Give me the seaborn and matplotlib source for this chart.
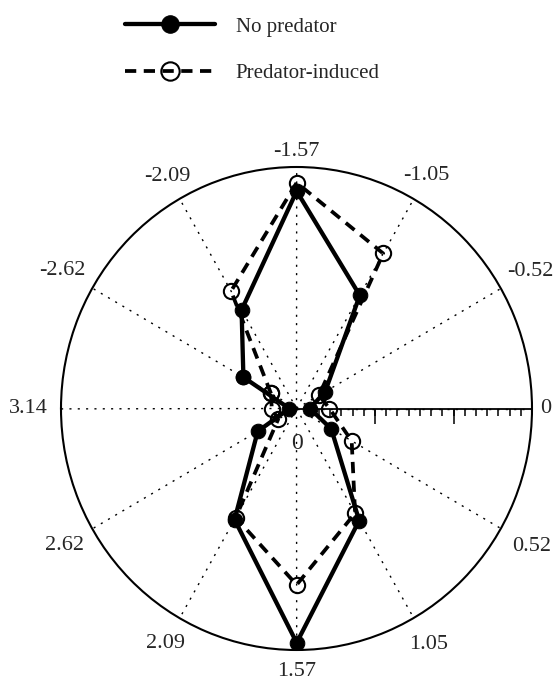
import matplotlib

matplotlib.use("Agg")

import matplotlib.pyplot as plt
import numpy as np
import seaborn as sns

sns.set_style("white")
plt.rcParams["font.family"] = ["Liberation Serif", "DejaVu Serif"]

# angle (rad) of each bin and mean vector length per treatment
angles = [-2.62, -2.09, -1.57, -1.05, -0.52, 0.0, 0.52, 1.05, 1.57, 2.09, 2.62, 3.14]
no_predator = [0.26, 0.47, 0.90, 0.54, 0.14, 0.057, 0.17, 0.535, 0.97, 0.53, 0.19, 0.03]
predator_induced = [0.125, 0.56, 0.935, 0.74, 0.11, 0.14, 0.27, 0.50, 0.73, 0.52, 0.09, 0.105]

tick_angles = [0.0, 0.52, 1.05, 1.57, 2.09, 2.62, 3.14, -2.62, -2.09, -1.57, -1.05, -0.52]
tick_labels = ["0", "0.52", "1.05", "1.57", "2.09", "2.62", "3.14",
               "-2.62", "-2.09", "-1.57", "-1.05", "-0.52"]
label_radius = [1.06, 1.15, 1.125, 1.09, 1.12, 1.135, 1.14, 1.145, 1.105, 1.065, 1.11, 1.145]

fig = plt.figure(figsize=(5.54, 6.82), dpi=100)
ax = fig.add_axes([61 / 554, 32 / 682, 471 / 554, 483 / 682], projection="polar")

# closed loops
th = np.append(angles, angles[0])
r_np = np.append(no_predator, no_predator[0])
r_pi = np.append(predator_induced, predator_induced[0])

sns.lineplot(x=th, y=r_pi, ax=ax, sort=False, estimator=None, color="black",
             linewidth=2.7, linestyle=(0, (3, 2)), marker="o", markersize=11,
             markerfacecolor="none", markeredgecolor="black", markeredgewidth=1.5)
line_pi = ax.lines[-1]
sns.lineplot(x=th, y=r_np, ax=ax, sort=False, estimator=None, color="black",
             linewidth=3.1, marker="o", markersize=10.5,
             markerfacecolor="black", markeredgecolor="black")
line_np = ax.lines[-1]

ax.set_xlim(-np.pi, np.pi)
ax.set_ylim(0, 1)
ax.set_theta_zero_location("E")
ax.set_theta_direction(-1)
ax.set_aspect("auto")
ax.set_xlabel("")
ax.set_ylabel("")

# spokes and outer circle
ax.set_xticks(tick_angles)
ax.set_xticklabels([])
ax.set_yticks([])
ax.grid(True, axis="x", color="black", linestyle=(0, (1.5, 4.5)), linewidth=1.0)
ax.tick_params(axis="x", direction="in", length=4, width=1, colors="black")
ax.spines["polar"].set_linewidth(1.5)
ax.spines["polar"].set_color("black")

for a, lab, rr in zip(tick_angles, tick_labels, label_radius):
    ax.text(a, rr, lab, ha="center", va="center", fontsize=16, clip_on=False)

# radial scale along theta = 0
ticks_r = np.arange(1, 21) / 21
ax.plot([0, 0], [0, 1], color="black", linewidth=1.3)
ax.plot(np.zeros(len(ticks_r)), ticks_r, linestyle="none", marker=3,
        markersize=5, markeredgewidth=1.1, color="black")
ax.plot([0, 0], [7 / 21, 14 / 21], linestyle="none", marker=3,
        markersize=11, markeredgewidth=1.1, color="black")
ax.text(1.57, 0.144, "0", ha="center", va="center", fontsize=17)

fig.legend([line_np, line_pi], ["No predator", "Predator-induced"],
           loc="upper left", bbox_to_anchor=(0.226, 0.975), frameon=False,
           fontsize=15, handlelength=4.3, handletextpad=1.0, labelspacing=1.3,
           markerscale=1.2, borderpad=0, borderaxespad=0)

fig.savefig("out.png", dpi=100)
